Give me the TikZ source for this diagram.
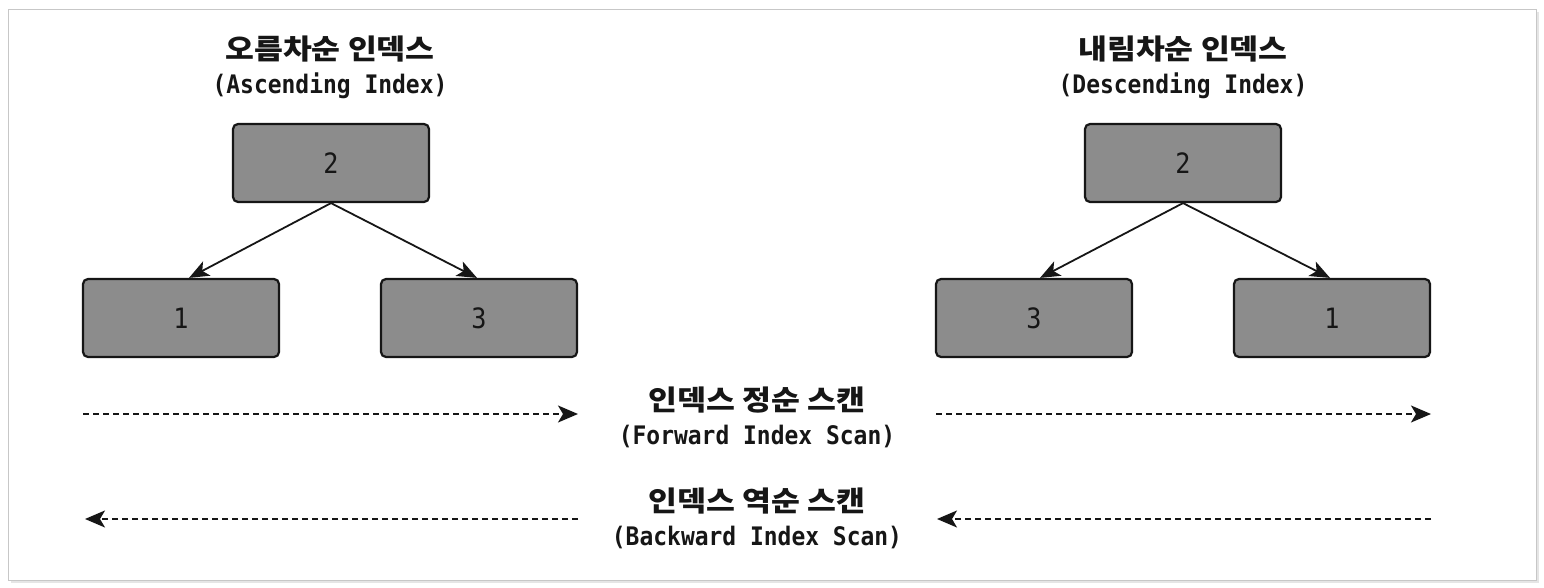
\documentclass[tikz,border=0pt]{standalone}
\usepackage{fontspec}
\newfontfamily\kr{Noto Sans CJK KR}[FakeStretch=1.12]
\newfontfamily\mono{DejaVu Sans Mono}[FakeStretch=0.9]
\usetikzlibrary{arrows.meta}
\definecolor{boxgray}{RGB}{140,140,140}
\definecolor{inkc}{RGB}{22,22,22}
\begin{document}
\begin{tikzpicture}[x=1pt,y=-1pt,
  keybox/.style={draw=inkc, line width=2.2pt, fill=boxgray, rounded corners=5pt,
    minimum width=196pt, minimum height=78pt, inner sep=0pt, text=inkc,
    font=\mono\fontsize{28}{28}\selectfont},
  title/.style={align=center, inner sep=0pt, text=inkc, font=\mono\bfseries\fontsize{25.5}{34}\selectfont},
  link/.style={draw=inkc, line width=1.8pt, -{Stealth[length=20pt,width=16pt,inset=5pt]}},
  scan/.style={draw=inkc, line width=1.8pt, dash pattern=on 6pt off 4pt, -{Stealth[length=20pt,width=17pt,inset=5pt]}}]
\useasboundingbox (0,0) rectangle (1544,588);
\fill[black!10] (11,12) rectangle (1539,583);
\fill[white,draw=black!22,line width=0.8pt] (8,9) rectangle (1536,580);

% titles
\node[title] (asctitle) at (330,67) {{\kr\bfseries\fontsize{28}{34}\selectfont 오름차순 인덱스}\\{\mono (Ascending Index)}};
\node[title] (desctitle) at (1183,67) {{\kr\bfseries\fontsize{28}{34}\selectfont 내림차순 인덱스}\\{\mono (Descending Index)}};

% ascending tree
\node[keybox] (a2) at (331,163) {2};
\node[keybox] (a1) at (181,318) {1};
\node[keybox] (a3) at (479,318) {3};
\draw[link] (a2.south) -- ([xshift=8pt]a1.north);
\draw[link] (a2.south) -- ([xshift=-2pt]a3.north);

% descending tree
\node[keybox] (d2) at (1183,163) {2};
\node[keybox] (d3) at (1034,318) {3};
\node[keybox] (d1) at (1332,318) {1};
\draw[link] (d2.south) -- ([xshift=6pt]d3.north);
\draw[link] (d2.south) -- ([xshift=-2pt]d1.north);

% scan labels
\node[title] (fwd) at (757,417) {{\kr\bfseries\fontsize{28}{34}\selectfont 인덱스 정순 스캔}\\{\mono (Forward Index Scan)}};
\node[title] (bwd) at (757,518) {{\kr\bfseries\fontsize{28}{34}\selectfont 인덱스 역순 스캔}\\{\mono (Backward Index Scan)}};

% scan arrows
\coordinate (fa0) at (83,414);  \coordinate (fa1) at (578,414);
\coordinate (fd0) at (936,414); \coordinate (fd1) at (1431,414);
\coordinate (ba0) at (578,519); \coordinate (ba1) at (85,519);
\coordinate (bd0) at (1431,519); \coordinate (bd1) at (937,519);
\draw[scan] (fa0) -- (fa1);
\draw[scan] (fd0) -- (fd1);
\draw[scan] (ba0) -- (ba1);
\draw[scan] (bd0) -- (bd1);
\end{tikzpicture}
\end{document}
